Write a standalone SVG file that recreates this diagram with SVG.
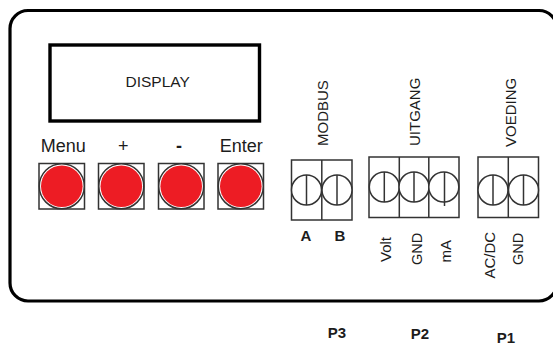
<svg xmlns="http://www.w3.org/2000/svg" width="553" height="345" viewBox="0 0 553 345">
<style>
text{font-family:"Liberation Sans",Arial,sans-serif;fill:#1c1c1c;text-anchor:middle}
.d{font-size:15.500px}.t{font-size:18px}.s{font-size:15px;text-anchor:start}.b{font-size:15px;font-weight:bold}
.box{fill:#fff;stroke:#333;stroke-width:1.5}
.ring{fill:#fff;stroke:#333;stroke-width:1.5}
.led{fill:#ed1c24}
.ln{stroke:#333;stroke-width:1.5;fill:none}
</style>
<rect width="553" height="345" fill="#fff"/>
<g id="housing"><rect x="10" y="10.500" width="547" height="290.500" rx="18" fill="#fff" stroke="#000" stroke-width="3.2"/></g>
<g id="display"><rect x="50" y="45" width="209.500" height="76" fill="#fff" stroke="#000" stroke-width="3.4"/><text class="d" x="157.700" y="86.500">DISPLAY</text></g>
<g id="btn-menu"><rect class="box" x="39" y="163.500" width="45.500" height="45.500"/><circle class="ring" cx="61.800" cy="186.200" r="22.500"/><circle class="led" cx="61.800" cy="186.200" r="20.800"/><text class="t" x="63.300" y="151.500">Menu</text></g>
<g id="btn-plus"><rect class="box" x="98.500" y="163.500" width="45.500" height="45.500"/><circle class="ring" cx="121.300" cy="186.200" r="22.500"/><circle class="led" cx="121.300" cy="186.200" r="20.800"/><text class="t" x="123.300" y="151.500">+</text></g>
<g id="btn-minus"><rect class="box" x="158.500" y="163.500" width="45.500" height="45.500"/><circle class="ring" cx="181.200" cy="186.200" r="22.500"/><circle class="led" cx="181.200" cy="186.200" r="20.800"/><text class="t" x="179" y="151.500" font-weight="bold">-</text></g>
<g id="btn-enter"><rect class="box" x="218" y="163.500" width="45.500" height="45.500"/><circle class="ring" cx="240.800" cy="186.200" r="22.500"/><circle class="led" cx="240.800" cy="186.200" r="20.800"/><text class="t" x="241.300" y="151.500">Enter</text></g>
<g id="p3">
<rect class="box" x="291.500" y="160" width="60.500" height="60"/><path class="ln" d="M321.800 160V220"/>
<circle class="ring" cx="306.500" cy="190" r="15"/><path class="ln" d="M306.500 175V205"/>
<circle class="ring" cx="337" cy="190" r="15"/><path class="ln" d="M337 175V205"/>
<text class="b" x="306" y="241">A</text><text class="b" x="340" y="241">B</text>
<text class="s" transform="translate(327.500 146) rotate(-90)">MODBUS</text>
<text class="b" x="337" y="338">P3</text>
</g>
<g id="p2">
<rect class="box" x="369" y="157" width="90" height="60.500"/><path class="ln" d="M399.300 157V217.500M428.800 157V217.500"/>
<circle class="ring" cx="384.300" cy="187" r="15"/><path class="ln" d="M384.300 172V202"/>
<circle class="ring" cx="414" cy="187" r="15"/><path class="ln" d="M414 172V202"/>
<circle class="ring" cx="443.800" cy="187" r="15"/><path class="ln" d="M444.500 172V206"/>
<text class="s" transform="translate(390.500 262) rotate(-90)">Volt</text>
<text class="s" transform="translate(421.500 265) rotate(-90)" style="font-size:14.500px">GND</text>
<text class="s" transform="translate(450.500 262.500) rotate(-90)">mA</text>
<text class="s" transform="translate(419.500 146) rotate(-90)">UITGANG</text>
<text class="b" x="420" y="339">P2</text>
</g>
<g id="p1">
<rect class="box" x="478" y="157" width="60.500" height="60.500"/><path class="ln" d="M508.300 157V217.500"/>
<circle class="ring" cx="493" cy="190" r="15"/><path class="ln" d="M493 175V205"/>
<circle class="ring" cx="523.500" cy="190" r="15"/><path class="ln" d="M523.500 175V205"/>
<text class="s" transform="translate(495 278.500) rotate(-90)">AC/DC</text>
<text class="s" transform="translate(522.500 265) rotate(-90)" style="font-size:14.500px">GND</text>
<text class="s" transform="translate(515.500 147) rotate(-90)">VOEDING</text>
<text class="b" x="506" y="342.500">P1</text>
</g>
<g id="connectors"></g>
</svg>
